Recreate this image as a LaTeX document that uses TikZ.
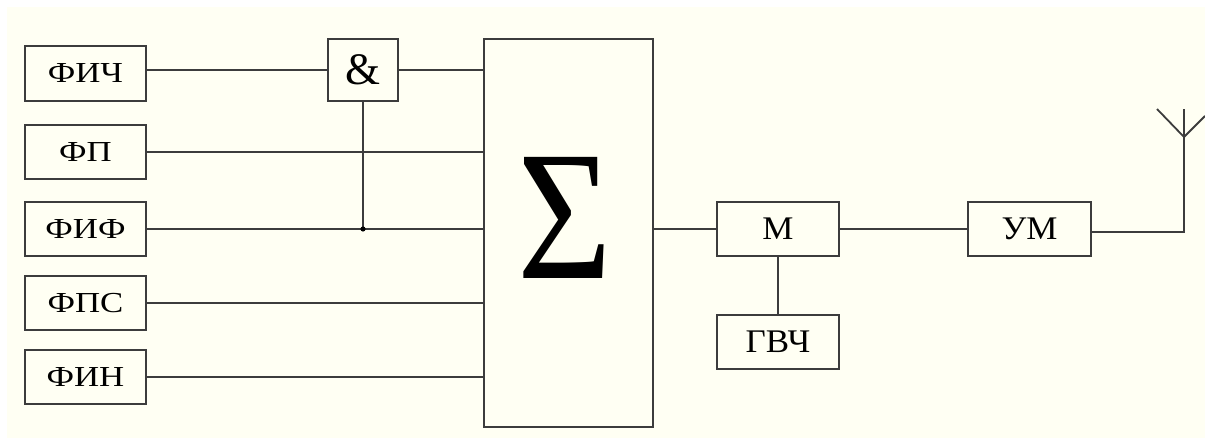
\documentclass[tikz,border=0pt]{standalone}
\usepackage{fontspec}
\usepackage{graphicx}
\setmainfont{Liberation Serif}
\newfontfamily\widelbl[FakeStretch=1.2]{Liberation Serif}
\newfontfamily\midlbl[FakeStretch=1.06]{Liberation Serif}
\definecolor{paper}{HTML}{FFFFF3}
\definecolor{wire}{HTML}{3C3C3C}
\begin{document}
\begin{tikzpicture}[x=1pt,y=-1pt,
  blk/.style={draw=wire,line width=1.8pt,rectangle,inner sep=0pt,
    minimum width=121pt,minimum height=54pt,
    font=\midlbl\fontsize{33}{33}\selectfont},
  srcblk/.style={blk,font=\widelbl\fontsize{29}{29}\selectfont},
  wireline/.style={draw=wire,line width=1.8pt}]
\useasboundingbox (0,0) rectangle (1205,438);
\fill[paper] (7,7) rectangle (1205,438);

% signal formers
\node[srcblk,minimum height=55pt] (fich) at (85.5,73.5) {\raisebox{-3pt}{ФИЧ}};
\node[srcblk] (fp)   at (85.5,152)  {ФП};
\node[srcblk] (fif)  at (85.5,229)  {ФИФ};
\node[srcblk] (fps)  at (85.5,303)  {ФПС};
\node[srcblk] (fin)  at (85.5,377)  {ФИН};

% AND gate
\node[blk,minimum width=70pt,minimum height=62pt,font=\fontsize{45}{45}\selectfont] (and) at (363,70) {\&};

% summator
\node[blk,minimum width=169pt,minimum height=388pt] (sum) at (568.5,233) {};
\node (sig) at (565,218) {\fontsize{185}{185}\selectfont\scalebox{0.88}[1]{Σ}};

% modulator, oscillator, amplifier
\node[blk,minimum width=122pt] (mod) at (778,229) {\raisebox{-3pt}{М}};
\node[blk,minimum width=122pt] (gen) at (778,342) {ГВЧ};
\node[blk,minimum width=123pt] (amp) at (1029.5,229) {УМ};

% antenna
\coordinate (feed) at (1184,232);
\coordinate (top) at (1184,109);
\coordinate (apex) at (1184,137);
\coordinate (armL) at (1157,109);
\coordinate (armR) at (1205,116);

% junction on the ФИФ line
\coordinate (j) at (and.south |- fif.east);

% connections
\draw[wireline] (fich.east |- and.west) -- (and.west);
\draw[wireline] (and.east) -- (and.east -| sum.west);
\draw[wireline] (fp.east) -- (fp.east -| sum.west);
\draw[wireline] (fif.east) -- (fif.east -| sum.west);
\draw[wireline] (fps.east) -- (fps.east -| sum.west);
\draw[wireline] (fin.east) -- (fin.east -| sum.west);
\draw[wireline] (and.south) -- (j);
\fill[black] (j) circle (2.6pt);
\draw[wireline] (sum.east |- mod.west) -- (mod.west);
\draw[wireline] (mod.south) -- (gen.north);
\draw[wireline] (mod.east) -- (amp.west);
\draw[wireline] (amp.east |- feed) -- (feed) -- (top);
\draw[wireline] (armL) -- (apex) -- (armR);
\end{tikzpicture}
\end{document}
